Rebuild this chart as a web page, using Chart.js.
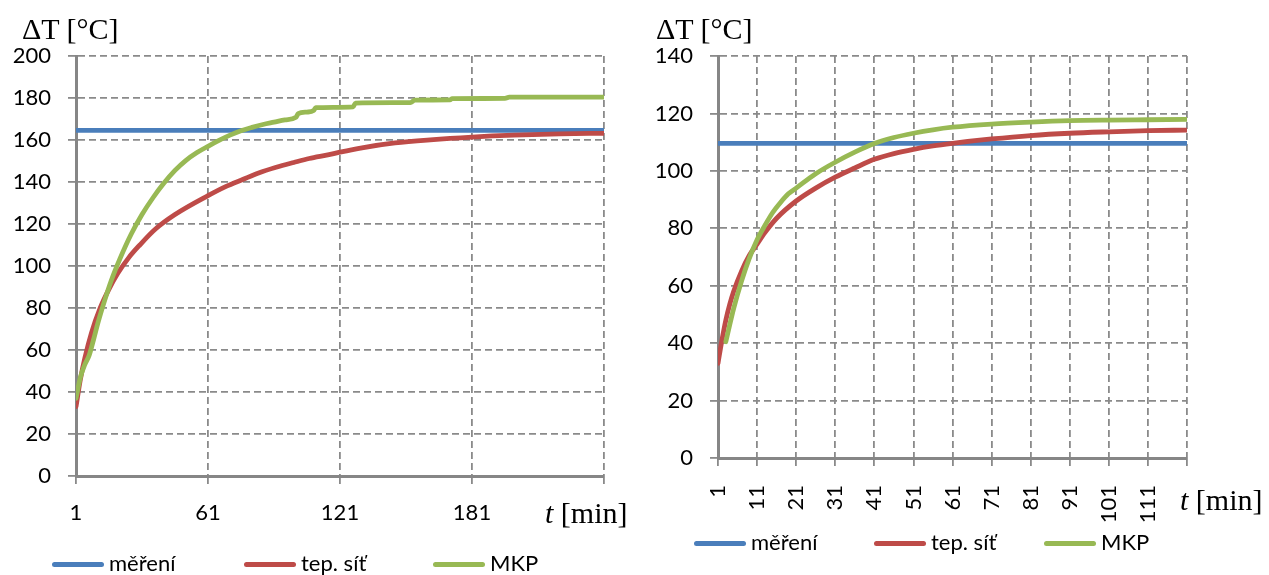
<!DOCTYPE html>
<html>
<head>
<meta charset="utf-8">
<script src="https://cdn.jsdelivr.net/npm/chart.js@4.4.1/dist/chart.umd.min.js"></script>
<style>
  body { margin: 0; width: 1269px; height: 575px; position: relative; background: #fff; overflow: hidden; }
  .box { position: absolute; top: 0; height: 575px; }
  .ttl { position: absolute; font-family: "Liberation Serif", serif; font-size: 30px; line-height: 30px; color: #000; white-space: nowrap; }
  .leg { position: absolute; font-family: Lato, sans-serif; font-size: 22px; line-height: 24px; color: #000; white-space: nowrap; }
  .leg span { display: inline-block; width: 52px; height: 5px; border-radius: 3px; vertical-align: middle; margin-right: 5px; position: relative; top: -1px; }
</style>
</head>
<body>
<div class="box" style="left:0;width:640px"><canvas id="leftChart"></canvas></div>
<div class="box" style="left:640px;width:629px"><canvas id="rightChart"></canvas></div>

<div class="ttl" style="left:22px;top:14px">ΔT [°C]</div>
<div class="ttl" style="left:656px;top:14px">ΔT [°C]</div>
<div class="ttl" style="left:545px;top:498px"><i>t</i> [min]</div>
<div class="ttl" style="left:1180px;top:485px"><i>t</i> [min]</div>

<script>
const seriesNames = ["měření", "tep. síť", "MKP"];
const colors = ["#4a7ebb", "#be4b48", "#98b954"];

// left chart
const leftTicksX = [1, 61, 121, 181, 241];
const leftLabelsX = ["1", "61", "121", "181", ""];
const leftMereniT = [1, 241];
const leftMereniV = [164.6, 164.6];
const leftSitT = [1, 3, 5, 8, 12, 16, 20, 25, 30, 37, 46, 61, 69, 77, 84, 92, 100, 107, 116, 121, 131, 146, 162, 181, 200, 221, 241];
const leftSitV = [33, 46, 56, 68, 80, 89, 96.5, 104, 110, 117.5, 124.5, 133.5, 137.8, 141.3, 144.3, 147, 149.3, 151.2, 153, 154.2, 156.3, 158.6, 160.1, 161.4, 162.3, 162.9, 163.2];
const leftMkpT = [1, 3, 5, 7, 9, 11, 14, 17, 21, 26, 31, 36, 41, 46, 51, 56, 61, 66, 71, 76, 81, 86, 91, 96, 101, 102, 106, 109, 110, 127, 128, 153, 155, 171, 172, 196, 198, 241];
const leftMkpV = [37, 47, 53, 57.5, 65, 73, 83.5, 93, 103.5, 115, 124.5, 132.5, 139.5, 145.5, 150.3, 154, 157, 159.8, 162.3, 164.4, 166, 167.4, 168.5, 169.6, 170.8, 172.6, 173.3, 174, 175.4, 175.8, 177.6, 177.8, 179, 179.1, 179.7, 179.8, 180.4, 180.4];

// right chart
const rightTicksX = [1, 11, 21, 31, 41, 51, 61, 71, 81, 91, 101, 111, 121];
const rightLabelsX = ["1", "11", "21", "31", "41", "51", "61", "71", "81", "91", "101", "111", ""];
const rightMereniT = [1, 121];
const rightMereniV = [109.6, 109.6];
const rightSitT = [1, 2, 3, 4, 5, 7, 9, 11, 13, 16, 21, 26, 31, 36, 41, 46, 51, 56, 61, 71, 81, 91, 101, 111, 121];
const rightSitV = [33, 41, 48, 53.5, 58, 65, 70.5, 74.5, 78.5, 83.5, 89.5, 94, 97.8, 101, 104, 106, 107.5, 108.7, 109.6, 111.1, 112.3, 113.1, 113.6, 114, 114.2];
const rightMkpT = [3, 5, 7, 9, 11, 13, 15, 17, 19, 21, 26, 31, 36, 41, 46, 51, 56, 61, 71, 81, 91, 101, 111, 121];
const rightMkpV = [40.5, 52, 61.5, 69.5, 76, 81, 85.5, 89, 92, 94, 99, 103, 106.5, 109.5, 111.6, 113.1, 114.3, 115.2, 116.3, 117, 117.5, 117.7, 117.8, 117.9];

const tickFont = { family: "Lato, sans-serif", size: 22 };
const gridColor = "#8a8a8a";

function makeChart(id, c) {
    return new Chart(document.getElementById(id), {
        type: "line",
        data: {
            datasets: c.series.map((s, i) => ({
                label: seriesNames[i],
                data: s.t.map((t, k) => ({ x: t, y: s.v[k] })),
                borderColor: colors[i],
                borderWidth: 4.8,
                pointRadius: 0,
                borderCapStyle: "round",
                borderJoinStyle: "round",
                cubicInterpolationMode: "monotone",
                fill: false,
                order: 2 - i
            }))
        },
        options: {
            responsive: true,
            maintainAspectRatio: false,
            animation: false,
            layout: { padding: { left: 0, right: c.padRight, top: 56, bottom: 0 } },
            plugins: { legend: { display: false }, tooltip: { enabled: false } },
            scales: {
                x: {
                    type: "linear",
                    min: c.ticksX[0],
                    max: c.ticksX[c.ticksX.length - 1],
                    afterBuildTicks: s => { s.ticks = c.ticksX.map(v => ({ value: v })); },
                    afterFit: s => { s.height = c.xHeight; },
                    ticks: {
                        autoSkip: false,
                        callback: (v, i) => c.labelsX[i],
                        font: tickFont,
                        color: "#000",
                        padding: c.xPad,
                        minRotation: c.rot,
                        maxRotation: c.rot
                    },
                    grid: { color: gridColor, lineWidth: 1.8, tickLength: 8 },
                    border: { display: true, color: "#868686", width: 3, dash: [7, 4] }
                },
                y: {
                    min: 0,
                    max: c.yMax,
                    afterFit: s => { s.width = c.yWidth; },
                    ticks: { stepSize: 20, font: tickFont, color: "#000", padding: 17 },
                    grid: { color: gridColor, lineWidth: 1.8, tickLength: 8 },
                    border: { display: true, color: "#868686", width: 3, dash: [7, 4] }
                }
            }
        }
    });
}

makeChart("leftChart", {
    ticksX: leftTicksX, labelsX: leftLabelsX, yMax: 200,
    padRight: 36, yWidth: 76, xHeight: 99, xPad: 16, rot: 0,
    series: [
        { t: leftMereniT, v: leftMereniV },
        { t: leftSitT, v: leftSitV },
        { t: leftMkpT, v: leftMkpV }
    ]
});

makeChart("rightChart", {
    ticksX: rightTicksX, labelsX: rightLabelsX, yMax: 140,
    padRight: 82, yWidth: 78, xHeight: 117, xPad: 19, rot: 90,
    series: [
        { t: rightMereniT, v: rightMereniV },
        { t: rightSitT, v: rightSitV },
        { t: rightMkpT, v: rightMkpV }
    ]
});

// legends below each chart
function addLegend(xs, yCenter) {
    seriesNames.forEach((name, i) => {
        let el = document.createElement("div");
        el.className = "leg";
        el.style.left = xs[i] + "px";
        el.style.top = (yCenter - 12) + "px";
        el.innerHTML = '<span style="background:' + colors[i] + '"></span>' + name;
        document.body.appendChild(el);
    });
}

addLegend([52, 244, 433], 563);
addLegend([694, 874, 1044], 542);
</script>
</body>
</html>
